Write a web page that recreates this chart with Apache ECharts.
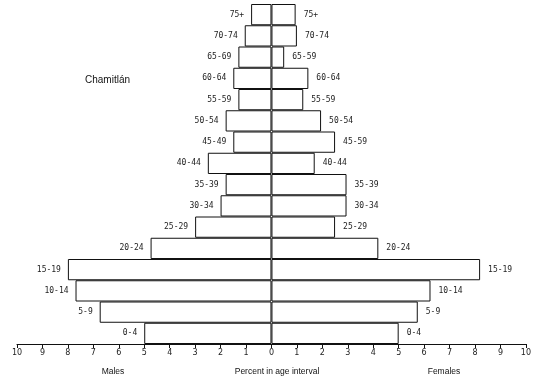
<!DOCTYPE html>
<html>
<head>
<meta charset="utf-8">
<script src="https://cdn.jsdelivr.net/npm/echarts@6/dist/echarts.min.js"></script>
<style>
html,body{margin:0;padding:0;background:#fff;}
#c{width:534px;height:381px;}
</style>
</head>
<body>
<div id="c"></div>
<script>
// Age groups, top to bottom
var ageGroups = ['75+','70-74','65-69','60-64','55-59','50-54','45-49','40-44','35-39','30-34','25-29','20-24','15-19','10-14','5-9','0-4'];
// Labels as printed on the right (female) side of the original
var femaleLabels = ['75+','70-74','65-59','60-64','55-59','50-54','45-59','40-44','35-39','30-34','25-29','20-24','15-19','10-14','5-9','0-4'];
// Percent in age interval
var malesPct = [0.8, 1.05, 1.3, 1.5, 1.3, 1.8, 1.5, 2.5, 1.8, 2.0, 3.0, 4.75, 8.0, 7.7, 6.75, 5.0];
var femalesPct = [0.95, 1.0, 0.5, 1.45, 1.25, 1.95, 2.5, 1.7, 2.95, 2.95, 2.5, 4.2, 8.2, 6.25, 5.75, 5.0];
var xTicks = [-10,-9,-8,-7,-6,-5,-4,-3,-2,-1,0,1,2,3,4,5,6,7,8,9,10];

var chart = echarts.init(document.getElementById('c'), null, {renderer:'canvas'});
var labelFont = {fontFamily:'DejaVu Sans Mono', fontSize:8, color:'#222'};
chart.setOption({
  animation:false,
  backgroundColor:'#fff',
  grid:{left:17, right:5, top:4, bottom:37, containLabel:false},
  xAxis:{
    type:'value', min:xTicks[0], max:xTicks[xTicks.length-1], interval:1,
    axisLine:{show:true, lineStyle:{color:'#111', width:1}},
    axisTick:{show:true, length:4, lineStyle:{color:'#111'}},
    splitLine:{show:false},
    axisLabel:{fontFamily:'DejaVu Sans', fontSize:8, color:'#222', margin:5,
      formatter:function(v){return String(Math.abs(v));}}
  },
  yAxis:{
    type:'category', data:ageGroups, inverse:true,
    axisLine:{show:false}, axisTick:{show:false}, axisLabel:{show:false}, splitLine:{show:false}
  },
  series:[
    {
      type:'bar', name:'Males', stack:'p',
      data:malesPct.map(function(v){return -v;}),
      barCategoryGap:0,
      itemStyle:{color:'rgba(255,255,255,0)', borderColor:'#111', borderWidth:1},
      label:{show:true, position:'left', distance:7,
        formatter:function(p){return ageGroups[p.dataIndex];}, 
        fontFamily:labelFont.fontFamily, fontSize:labelFont.fontSize, color:labelFont.color}
    },
    {
      type:'bar', name:'Females', stack:'p',
      data:femalesPct,
      barCategoryGap:0,
      itemStyle:{color:'rgba(255,255,255,0)', borderColor:'#111', borderWidth:1},
      label:{show:true, position:'right', distance:8,
        formatter:function(p){return femaleLabels[p.dataIndex];},
        fontFamily:labelFont.fontFamily, fontSize:labelFont.fontSize, color:labelFont.color}
    }
  ],
  graphic:[
    {type:'text', left:85, top:75, style:{text:'Chamitlán', font:'10px "Liberation Sans"', fill:'#111'}},
    {type:'text', x:113, y:372, style:{text:'Males', font:'8.5px "Liberation Sans"', fill:'#111', align:'center', verticalAlign:'middle'}},
    {type:'text', x:277, y:372, style:{text:'Percent in age interval', font:'8.5px "Liberation Sans"', fill:'#111', align:'center', verticalAlign:'middle'}},
    {type:'text', x:444, y:372, style:{text:'Females', font:'8.5px "Liberation Sans"', fill:'#111', align:'center', verticalAlign:'middle'}}
  ]
});
</script>
</body>
</html>
